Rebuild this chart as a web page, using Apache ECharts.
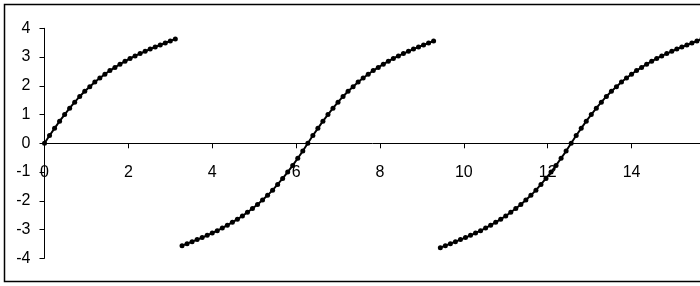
<!DOCTYPE html>
<html>
<head>
<meta charset="utf-8">
<script src="https://cdn.jsdelivr.net/npm/echarts@6/dist/echarts.min.js"></script>
<style>
html,body{margin:0;padding:0;background:#fff;}
#chart{width:700px;height:286px;}
</style>
</head>
<body>
<div id="chart"></div>
<script>
const xTicks = [0, 2, 4, 6, 8, 10, 12, 14, 16];
const yTicks = [-4, -3, -2, -1, 0, 1, 2, 3, 4];

const seg1X = [0, 0.12, 0.24, 0.36, 0.48, 0.6, 0.72, 0.84, 0.96, 1.08, 1.2, 1.32, 1.44, 1.56, 1.68, 1.8, 1.92, 2.04, 2.16, 2.28, 2.4, 2.52, 2.64, 2.76, 2.88, 3.0, 3.12];
const seg1Y = [0, 0.27, 0.52, 0.77, 1.00, 1.22, 1.43, 1.63, 1.81, 1.97, 2.13, 2.27, 2.40, 2.53, 2.64, 2.75, 2.85, 2.95, 3.04, 3.12, 3.20, 3.28, 3.35, 3.42, 3.49, 3.56, 3.63];

const seg2X = [3.28, 3.40, 3.52, 3.64, 3.76, 3.88, 4.00, 4.12, 4.24, 4.36, 4.48, 4.60, 4.72, 4.84, 4.96, 5.08, 5.20, 5.32, 5.44, 5.56, 5.68, 5.80, 5.92, 6.04, 6.16, 6.28, 6.40, 6.52, 6.64, 6.76, 6.88, 7.00, 7.12, 7.24, 7.36, 7.48, 7.60, 7.72, 7.84, 7.96, 8.08, 8.20, 8.32, 8.44, 8.56, 8.68, 8.80, 8.92, 9.04, 9.16, 9.28];
const seg2Y = [-3.56, -3.49, -3.42, -3.35, -3.28, -3.20, -3.12, -3.04, -2.95, -2.85, -2.75, -2.64, -2.53, -2.40, -2.27, -2.13, -1.97, -1.81, -1.63, -1.43, -1.22, -1.00, -0.77, -0.52, -0.27, 0, 0.27, 0.52, 0.77, 1.00, 1.22, 1.43, 1.63, 1.81, 1.97, 2.13, 2.27, 2.40, 2.53, 2.64, 2.75, 2.85, 2.95, 3.04, 3.12, 3.20, 3.28, 3.35, 3.42, 3.49, 3.56];

const seg3X = [9.44, 9.56, 9.68, 9.80, 9.92, 10.04, 10.16, 10.28, 10.40, 10.52, 10.64, 10.76, 10.88, 11.00, 11.12, 11.24, 11.36, 11.48, 11.60, 11.72, 11.84, 11.96, 12.08, 12.20, 12.32, 12.44, 12.56, 12.68, 12.80, 12.92, 13.04, 13.16, 13.28, 13.40, 13.52, 13.64, 13.76, 13.88, 14.00, 14.12, 14.24, 14.36, 14.48, 14.60, 14.72, 14.84, 14.96, 15.08, 15.20, 15.32, 15.44, 15.56, 15.68];
const seg3Y = [-3.63, -3.56, -3.49, -3.42, -3.35, -3.28, -3.20, -3.12, -3.04, -2.95, -2.85, -2.75, -2.64, -2.53, -2.40, -2.27, -2.13, -1.97, -1.81, -1.63, -1.43, -1.22, -1.00, -0.77, -0.52, -0.27, 0, 0.27, 0.52, 0.77, 1.00, 1.22, 1.43, 1.63, 1.81, 1.97, 2.13, 2.27, 2.40, 2.53, 2.64, 2.75, 2.85, 2.95, 3.04, 3.12, 3.20, 3.28, 3.35, 3.42, 3.49, 3.56, 3.63];

function pairs(xs, ys) { return xs.map((x, i) => [x, ys[i]]); }

const chart = echarts.init(document.getElementById('chart'), null, {renderer: 'canvas'});
const font = {fontFamily: '"Liberation Sans", Arial, sans-serif', fontSize: 16, color: '#000'};

function lineSeries(data) {
  return {
    type: 'line',
    data: data,
    symbol: 'circle',
    symbolSize: 5,
    showAllSymbol: true,
    itemStyle: {color: '#000'},
    lineStyle: {color: '#000', width: 2},
    clip: true,
    silent: true
  };
}

const gridTop = 28.3, gridBottom = 27.7;
const plotH = 286 - gridTop - gridBottom;

chart.setOption({
  animation: false,
  backgroundColor: '#fff',
  graphic: [{
    type: 'rect',
    shape: {x: 4.5, y: 4.5, width: 720, height: 277},
    style: {fill: 'none', stroke: '#000', lineWidth: 1.5},
    silent: true,
    z: 0
  }],
  grid: {left: 44.5, top: gridTop, bottom: gridBottom, right: -15.4, containLabel: false, outerBoundsMode: 'none'},
  xAxis: {
    type: 'value',
    position: 'bottom',
    offset: -plotH / 2,
    min: xTicks[0],
    max: xTicks[xTicks.length - 1],
    interval: 2,
    axisLine: {show: true, onZero: false, lineStyle: {color: '#000', width: 1}},
    axisTick: {show: true, inside: false, length: 5, lineStyle: {color: '#000'}},
    axisLabel: Object.assign({margin: 21}, font),
    splitLine: {show: false}
  },
  yAxis: {
    type: 'value',
    min: yTicks[0],
    max: yTicks[yTicks.length - 1],
    interval: 1,
    axisLine: {show: true, onZero: false, lineStyle: {color: '#000', width: 1}},
    axisTick: {show: true, inside: false, length: 5, lineStyle: {color: '#000'}},
    axisLabel: Object.assign({margin: 14}, font),
    splitLine: {show: false}
  },
  series: [
    lineSeries(pairs(seg1X, seg1Y)),
    lineSeries(pairs(seg2X, seg2Y)),
    lineSeries(pairs(seg3X, seg3Y))
  ]
});
</script>
</body>
</html>
